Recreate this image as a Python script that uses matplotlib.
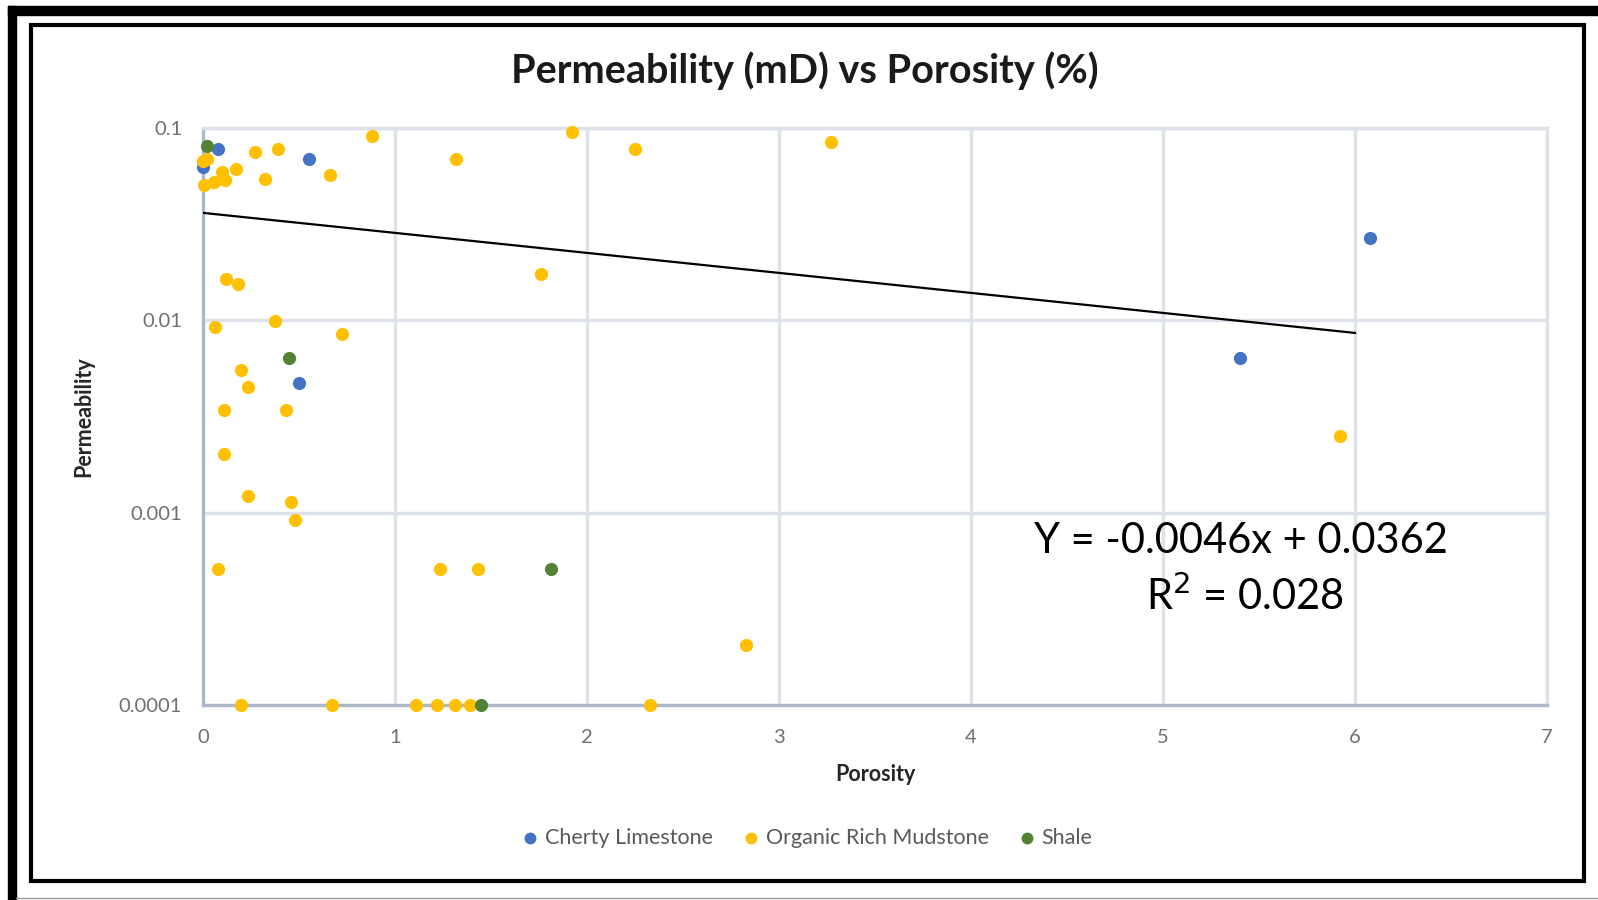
import matplotlib
matplotlib.use("Agg")
import matplotlib.pyplot as plt
from matplotlib.patches import Rectangle
from matplotlib.lines import Line2D

plt.rcParams['font.family'] = ['Lato', 'DejaVu Sans']

# porosity (%) and permeability (mD) per lithology
cherty_x = [0.0, 0.08, 0.55, 0.50, 5.40, 6.08]
cherty_y = [0.063, 0.0775, 0.069, 0.0047, 0.0064, 0.0267]

organic_x = [0.0, 0.02, 0.27, 0.39, 0.88, 0.17, 0.10, 0.115, 0.055, 0.005,
             0.325, 0.66, 1.32, 1.92, 2.25, 3.27, 1.76,
             0.12, 0.18, 0.06, 0.375, 0.725, 0.20, 0.235, 0.11, 0.43,
             0.11, 0.235, 0.46, 0.48, 0.08, 1.235, 1.43, 2.83, 5.92,
             0.20, 0.67, 1.11, 1.22, 1.31, 1.39, 2.33]
organic_y = [0.067, 0.069, 0.075, 0.0775, 0.091, 0.061, 0.059, 0.0537, 0.0527, 0.0506,
             0.0543, 0.0568, 0.0687, 0.095, 0.0775, 0.0843, 0.0174,
             0.0165, 0.0154, 0.0092, 0.0099, 0.0085, 0.0055, 0.0045, 0.0034, 0.0034,
             0.00203, 0.00122, 0.00113, 0.00092, 0.00051, 0.00051, 0.00051, 0.000206, 0.0025,
             0.0001, 0.0001, 0.0001, 0.0001, 0.0001, 0.0001, 0.0001]

shale_x = [0.02, 0.45, 1.81, 1.45]
shale_y = [0.081, 0.0064, 0.00051, 0.0001]

# linear trendline as reported on the chart
slope = -0.0046
intercept = 0.0362
r2 = 0.028
trend_x = [0, 6]

x_ticks = [0, 1, 2, 3, 4, 5, 6, 7]
y_ticks = [0.0001, 0.001, 0.01, 0.1]
y_labels = ['0.0001', '0.001', '0.01', '0.1']

W, H = 1598, 900


def fx(px):
    return px / W


def fy(py):
    return 1 - py / H


fig = plt.figure(figsize=(W / 100, H / 100), dpi=100)
ax = fig.add_axes([fx(203), fy(705), fx(1547) - fx(203), fy(128) - fy(705)])

grid_c = '#DDE1E9'
axis_c = '#ADB9CA'

ax.scatter(cherty_x, cherty_y, s=90, color='#4472C4', zorder=4, clip_on=False,
           label='Cherty Limestone', linewidths=0)
ax.scatter(organic_x, organic_y, s=90, color='#FFC000', zorder=4, clip_on=False,
           label='Organic Rich Mudstone', linewidths=0)
ax.scatter(shale_x, shale_y, s=90, color='#548235', zorder=5, clip_on=False,
           label='Shale', linewidths=0)

trend_y = [slope * x + intercept for x in trend_x]
ax.plot(trend_x, trend_y, color='black', lw=1.6, zorder=3)

ax.set_yscale('log')
ax.set_xlim(0, 7)
ax.set_ylim(0.0001, 0.1)
ax.set_xticks(x_ticks)
ax.set_xticklabels([str(t) for t in x_ticks])
ax.set_yticks(y_ticks)
ax.set_yticklabels(y_labels)
ax.minorticks_off()
ax.tick_params(length=0, labelsize=14.5, colors='#707070')
ax.tick_params(axis='y', pad=15)
ax.tick_params(axis='x', pad=17)

ax.grid(True, color=grid_c, lw=2.4, zorder=0)
ax.set_axisbelow(True)
for side in ['top', 'right']:
    ax.spines[side].set_color(grid_c)
    ax.spines[side].set_linewidth(2.4)
for side in ['left', 'bottom']:
    ax.spines[side].set_color(axis_c)
    ax.spines[side].set_linewidth(2.4)

ax.set_xlabel('Porosity', fontsize=15.5, fontweight='bold', color='#262626', labelpad=13)
ax.set_ylabel('Permeability', fontsize=15.5, fontweight='bold', color='#262626', labelpad=18)

fig.text(fx(805), fy(71), 'Permeability (mD) vs Porosity (%)', ha='center', va='center',
         fontsize=28.5, fontweight='bold', color='#1a1a1a')

fig.text(fx(1241), fy(541), 'Y = %.4fx + %.4f' % (slope, intercept), ha='center', va='center',
         fontsize=30, color='black')
fig.text(fx(1245), fy(596), 'R$^2$ = %.3f' % r2, ha='center', va='center',
         fontsize=30, color='black')

fig.legend(loc='center', bbox_to_anchor=(fx(808), fy(838)), ncol=3, frameon=False,
           fontsize=15.5, labelcolor='#595959', handlelength=0.6, handletextpad=0.4,
           columnspacing=1.45, markerscale=0.9)

# double black frame around the chart
fig.add_artist(Rectangle((fx(8), fy(15)), 1 - fx(8), 9 / H, color='black',
                         transform=fig.transFigure))
fig.add_artist(Rectangle((fx(8), 0), 8 / W, fy(6), color='black',
                         transform=fig.transFigure))
fig.add_artist(Rectangle((fx(31), fy(880.5)), fx(1584) - fx(31), fy(25.5) - fy(880.5),
                         fill=False, edgecolor='black', lw=3, transform=fig.transFigure))
fig.add_artist(Line2D([fx(16), 1], [fy(897.5), fy(897.5)], color='#9A9A9A', lw=1,
                      transform=fig.transFigure))

fig.savefig('out.png', dpi=100)
